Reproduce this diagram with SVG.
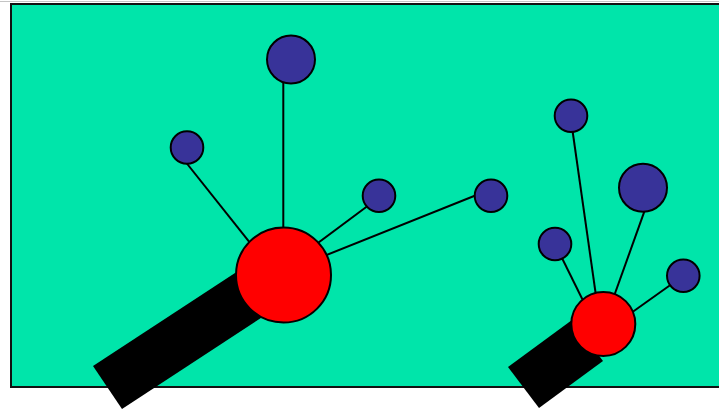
<svg xmlns="http://www.w3.org/2000/svg" width="719" height="410" viewBox="0 0 719 410">
  <style>
    .link { stroke: #000; stroke-width: 2; fill: none; }
    .leaf { fill: #383399; stroke: #000; stroke-width: 2; }
    .hub { fill: #ff0000; stroke: #000; stroke-width: 2; }
    .bar { fill: #000; }
  </style>
  <rect x="0" y="0" width="719" height="410" fill="#ffffff"/>
  <line x1="0" y1="1.5" x2="719" y2="1.5" stroke="#c4c4c4" stroke-width="1"/>
  <rect id="background" x="11" y="4" width="730" height="383" fill="#00e5aa" stroke="#111" stroke-width="2"/>

  <g id="handles">
    <polygon class="bar" points="93,366 122,409 296,295 267,252"/>
    <polygon class="bar" points="508,367 539,408 603,361 572,320"/>
  </g>

  <g id="connectors">
    <line class="link" x1="283.3" y1="70" x2="283.3" y2="275"/>
    <line class="link" x1="182.5" y1="158" x2="275.6" y2="275"/>
    <line class="link" x1="379" y1="197.5" x2="283" y2="269"/>
    <line class="link" x1="491" y1="189.3" x2="283" y2="272.4"/>
    <line class="link" x1="571" y1="120" x2="600" y2="324"/>
    <line class="link" x1="644.3" y1="211.7" x2="604" y2="324"/>
    <line class="link" x1="558" y1="250" x2="594.6" y2="324"/>
    <line class="link" x1="683" y1="276" x2="603" y2="333"/>
  </g>

  <g id="leaf-top"><circle class="leaf" cx="291" cy="59.5" r="24"/></g>
  <g id="leaf-left"><circle class="leaf" cx="187" cy="147.5" r="16.3"/></g>
  <g id="leaf-mid"><circle class="leaf" cx="379" cy="195.7" r="16.3"/></g>
  <g id="leaf-far"><circle class="leaf" cx="491" cy="195.7" r="16.3"/></g>
  <g id="hub-large"><circle class="hub" cx="283.5" cy="275" r="47.5"/></g>

  <g id="leaf-r1"><circle class="leaf" cx="571" cy="115.7" r="16.3"/></g>
  <g id="leaf-r2"><circle class="leaf" cx="643" cy="187.7" r="24"/></g>
  <g id="leaf-r3"><circle class="leaf" cx="555" cy="244" r="16.3"/></g>
  <g id="leaf-r4"><circle class="leaf" cx="683.3" cy="275.7" r="16.3"/></g>
  <g id="hub-small"><circle class="hub" cx="603.3" cy="324" r="32"/></g>
</svg>
